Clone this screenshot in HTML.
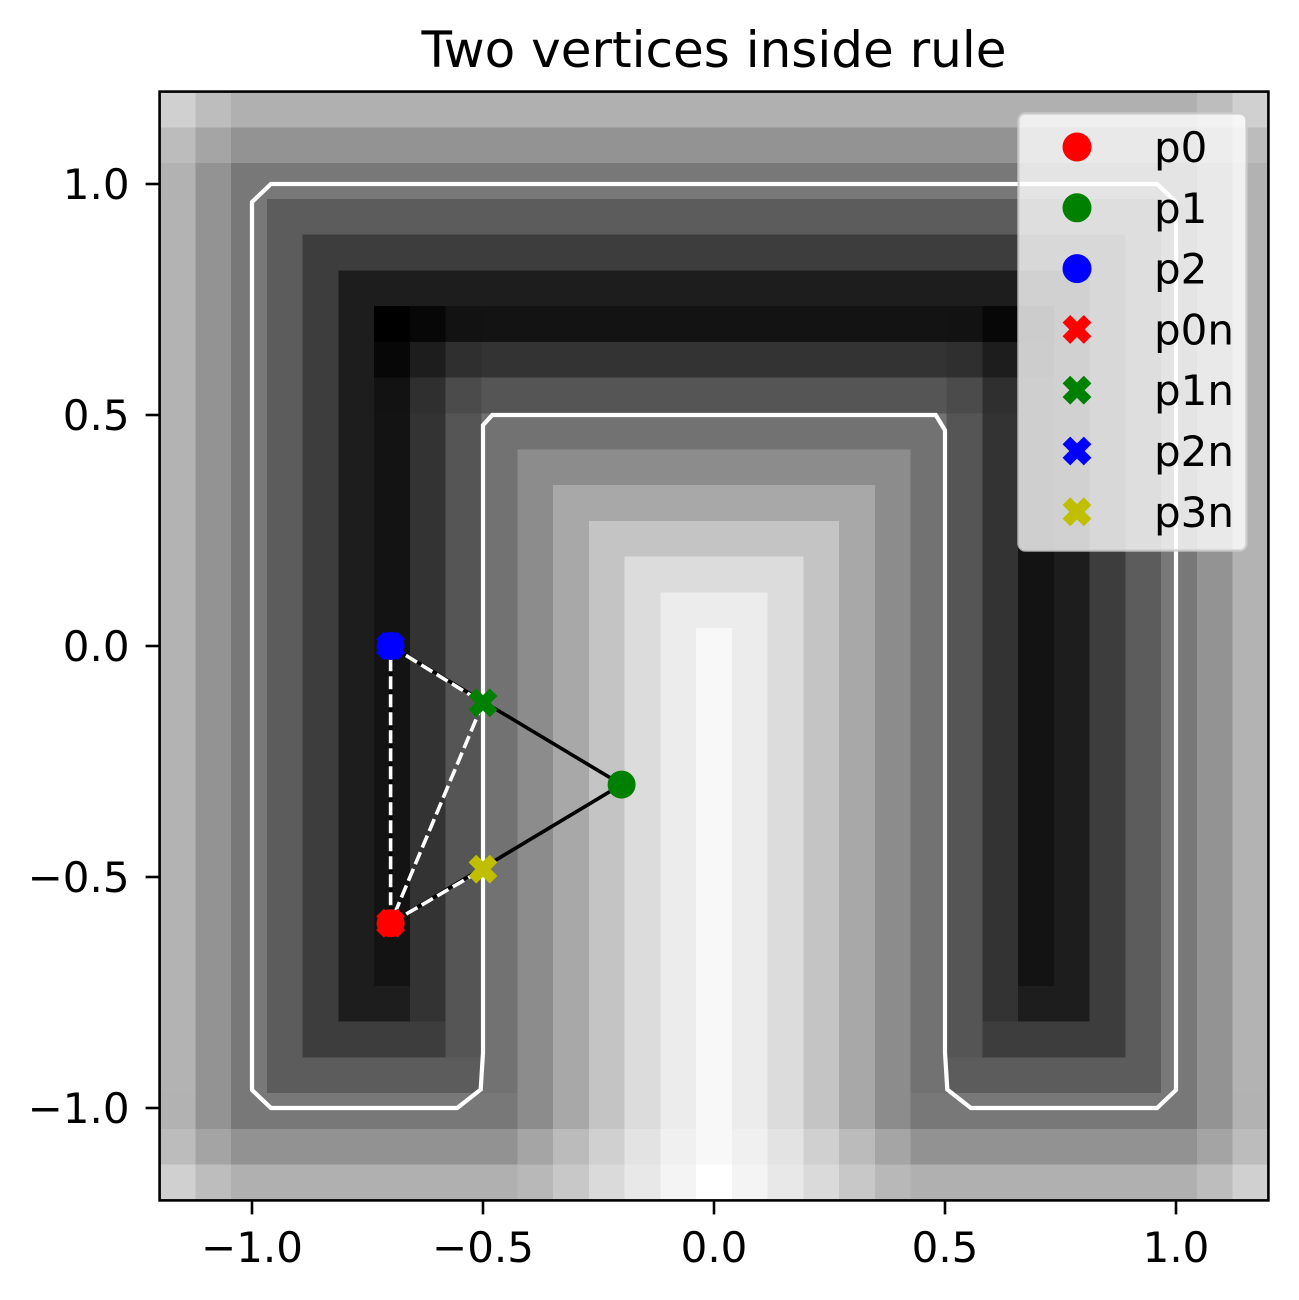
<!DOCTYPE html>
<html><head><meta charset="utf-8"><title>Two vertices inside rule</title>
<style>html,body{margin:0;padding:0;background:#fff}svg{display:block}</style></head>
<body>
<svg id="chart" width="1299" height="1300" viewBox="0 0 1299 1300" xmlns="http://www.w3.org/2000/svg" font-family="DejaVu Sans, Liberation Sans, sans-serif">
<rect x="0" y="0" width="1299" height="1300" fill="#fff"/>
<text x="714" y="67" font-size="50" text-anchor="middle" fill="#000">Two vertices inside rule</text>
<g id="heat"></g>
<g id="overlay"></g>
<g id="axes"></g>
<g id="legend"></g>
</svg>
<script>
// ---- data ----
const extentMin = -1.2, extentMax = 1.2;
const grid = [
[208,189,176,176,176,176,176,176,176,176,176,176,176,176,176,176,176,176,176,176,176,176,176,176,176,176,176,176,176,189,208],
[188,165,147,147,147,147,147,147,147,147,147,147,147,147,147,147,147,147,147,147,147,147,147,147,147,147,147,147,147,165,188],
[178,147,120,120,120,120,120,120,120,120,120,120,120,120,120,120,120,120,120,120,120,120,120,120,120,120,120,120,120,147,178],
[179,147,120,92,92,92,92,92,92,92,92,92,92,92,92,92,92,92,92,92,92,92,92,92,92,92,92,92,120,147,179],
[179,147,120,92,61,61,61,61,61,61,61,61,61,61,61,61,61,61,61,61,61,61,61,61,61,61,61,92,120,147,179],
[179,147,120,92,61,29,29,29,29,29,29,29,29,29,29,29,29,29,29,29,29,29,29,29,29,29,61,92,120,147,179],
[179,147,120,92,61,29,0,7,18,19,19,19,19,19,19,19,19,19,19,19,19,19,18,7,0,29,61,92,120,147,179],
[179,147,120,92,61,29,7,29,47,51,51,51,51,51,51,51,51,51,51,51,51,51,47,29,7,29,61,92,120,147,179],
[179,147,120,92,61,29,18,47,75,85,85,85,85,85,85,85,85,85,85,85,85,85,75,47,18,29,61,92,120,147,179],
[179,147,120,92,61,29,19,51,85,114,114,114,114,114,114,114,114,114,114,114,114,114,85,51,19,29,61,92,120,147,179],
[179,147,120,92,61,29,19,51,85,114,140,140,140,140,140,140,140,140,140,140,140,114,85,51,19,29,61,92,120,147,179],
[179,147,120,92,61,29,19,51,85,114,140,168,168,168,168,168,168,168,168,168,140,114,85,51,19,29,61,92,120,147,179],
[179,147,120,92,61,29,19,51,85,114,140,168,196,196,196,196,196,196,196,168,140,114,85,51,19,29,61,92,120,147,179],
[179,147,120,92,61,29,19,51,85,114,140,168,196,220,220,220,220,220,196,168,140,114,85,51,19,29,61,92,120,147,179],
[179,147,120,92,61,29,19,51,85,114,140,168,196,220,236,236,236,220,196,168,140,114,85,51,19,29,61,92,120,147,179],
[179,147,120,92,61,29,19,51,85,114,140,168,196,220,236,248,236,220,196,168,140,114,85,51,19,29,61,92,120,147,179],
[179,147,120,92,61,29,19,51,85,114,140,168,196,220,236,248,236,220,196,168,140,114,85,51,19,29,61,92,120,147,179],
[179,147,120,92,61,29,19,51,85,114,140,168,196,220,236,248,236,220,196,168,140,114,85,51,19,29,61,92,120,147,179],
[179,147,120,92,61,29,19,51,85,114,140,168,196,220,236,248,236,220,196,168,140,114,85,51,19,29,61,92,120,147,179],
[179,147,120,92,61,29,19,51,85,114,140,168,196,220,236,248,236,220,196,168,140,114,85,51,19,29,61,92,120,147,179],
[179,147,120,92,61,29,19,51,85,114,140,168,196,220,236,248,236,220,196,168,140,114,85,51,19,29,61,92,120,147,179],
[179,147,120,92,61,29,19,51,85,114,140,168,196,220,236,248,236,220,196,168,140,114,85,51,19,29,61,92,120,147,179],
[179,147,120,92,61,29,19,51,85,114,140,168,196,220,236,248,236,220,196,168,140,114,85,51,19,29,61,92,120,147,179],
[179,147,120,92,61,29,19,51,85,114,140,168,196,220,236,248,236,220,196,168,140,114,85,51,19,29,61,92,120,147,179],
[179,147,120,92,61,29,19,51,85,114,140,168,196,220,236,248,236,220,196,168,140,114,85,51,19,29,61,92,120,147,179],
[179,147,120,92,61,29,29,51,85,114,140,168,196,220,236,248,236,220,196,168,140,114,85,51,29,29,61,92,120,147,179],
[179,147,120,92,61,61,61,61,85,114,140,168,196,220,236,248,236,220,196,168,140,114,85,61,61,61,61,92,120,147,179],
[179,147,120,92,92,92,92,92,92,114,140,168,196,220,236,248,236,220,196,168,140,114,92,92,92,92,92,92,120,147,179],
[178,147,120,120,120,120,120,120,120,120,140,168,196,220,236,248,236,220,196,168,140,120,120,120,120,120,120,120,120,147,178],
[188,164,146,146,146,146,146,146,146,146,165,187,208,227,240,248,240,227,208,187,165,146,146,146,146,146,146,146,146,164,188],
[208,189,176,176,176,176,176,176,176,176,184,200,218,232,244,255,244,232,218,200,184,176,176,176,176,176,176,176,176,189,208]
];
const contourX = [-0.959,0.959,1.0,1.0,0.959,0.556,0.505,0.5,0.5,0.48,-0.48,-0.5,-0.5,-0.505,-0.556,-0.959,-1.0,-1.0];
const contourY = [1.0,1.0,0.961,-0.961,-1.0,-1.0,-0.96,-0.88,0.467,0.5,0.5,0.478,-0.88,-0.96,-1.0,-1.0,-0.961,0.961];
const pointNames = ["p0","p1","p2"];
const pointX = [-0.7,-0.2,-0.7];
const pointY = [-0.6,-0.3,0.0];
const newNames = ["p0n","p1n","p2n","p3n"];
const newX = [-0.7,-0.5,-0.7,-0.5];
const newY = [-0.6,-0.123,0.0,-0.483];
const pointColors = ["#ff0000","#008000","#0000ff"];
const newColors = ["#ff0000","#008000","#0000ff","#bfbf00"];
const xTicks = [-1.0,-0.5,0.0,0.5,1.0];
const xTickLabels = ["\u22121.0","\u22120.5","0.0","0.5","1.0"];
const yTicks = [1.0,0.5,0.0,-0.5,-1.0];
const yTickLabels = ["1.0","0.5","0.0","\u22120.5","\u22121.0"];

// ---- scales ----
const AX0 = 159.6, AX1 = 1268.4, AY0 = 91.6, AY1 = 1200.4;
function sx(v){ return AX0 + (v - extentMin) / (extentMax - extentMin) * (AX1 - AX0); }
function sy(v){ return AY1 - (v - extentMin) / (extentMax - extentMin) * (AY1 - AY0); }
const NS = "http://www.w3.org/2000/svg";
function mk(tag, attrs, parent){ const e = document.createElementNS(NS, tag); for (const k in attrs) e.setAttribute(k, attrs[k]); parent.appendChild(e); return e; }

// ---- heatmap ----
const heat = document.getElementById('heat');
const nR = grid.length, nC = grid[0].length;
const cw = (extentMax - extentMin) / nC, ch = (extentMax - extentMin) / nR;
for (let r = 0; r < nR; r++) {
  for (let c = 0; c < nC; c++) {
    const v = grid[r][c];
    const x0 = sx(extentMin + c * cw), x1 = sx(extentMin + (c + 1) * cw);
    const y0 = sy(extentMax - r * ch), y1 = sy(extentMax - (r + 1) * ch);
    const rc = mk('rect', {x: x0, y: y0, width: (x1 - x0) + 0.6, height: (y1 - y0) + 0.6, fill: `rgb(${v},${v},${v})`, 'shape-rendering': 'crispEdges'}, heat);
    
    
  }
}

// ---- overlay ----
const ov = document.getElementById('overlay');
const cpts = contourX.map((x, i) => sx(x) + ',' + sy(contourY[i])).join(' ');
const contour = mk('polygon', {points: cpts, fill: 'none', stroke: '#fff', 'stroke-width': 4.2, 'stroke-linejoin': 'miter'}, ov);



function seg(x1, y1, x2, y2, stroke, dash, name) {
  const l = mk('line', {x1: sx(x1), y1: sy(y1), x2: sx(x2), y2: sy(y2), stroke: stroke, 'stroke-width': 3.6}, ov);
  if (dash) l.setAttribute('stroke-dasharray', dash);
  
  
}
seg(pointX[0], pointY[0], pointX[1], pointY[1], '#000', null, 'edge-p0-p1');
seg(pointX[1], pointY[1], pointX[2], pointY[2], '#000', null, 'edge-p1-p2');
seg(pointX[2], pointY[2], pointX[0], pointY[0], '#000', null, 'edge-p2-p0');
seg(pointX[2], pointY[2], newX[1], newY[1], '#fff', '13,5', 'new-edge-p2-p1n');
seg(newX[1], newY[1], pointX[0], pointY[0], '#fff', '13,5', 'new-edge-p1n-p0');
seg(pointX[0], pointY[0], newX[3], newY[3], '#fff', '13,5', 'new-edge-p0-p3n');
seg(pointX[0], pointY[0], pointX[2], pointY[2], '#fff', '13,5', 'new-edge-p0-p2');

function xMarker(cx, cy, color, parent) {
  const s = 15, w = 5.4;
  const g = mk('g', {transform: `translate(${cx},${cy}) rotate(45)`}, parent);
  mk('rect', {x: -s, y: -w, width: 2 * s, height: 2 * w, fill: color}, g);
  mk('rect', {x: -w, y: -s, width: 2 * w, height: 2 * s, fill: color}, g);
  return g;
}
for (let i = 0; i < pointX.length; i++) {
  const m = mk('circle', {cx: sx(pointX[i]), cy: sy(pointY[i]), r: 14, fill: pointColors[i]}, ov);
  
  
}
for (let i = 0; i < newX.length; i++) {
  const m = xMarker(sx(newX[i]), sy(newY[i]), newColors[i], ov);
  
  
}

// ---- axes ----
const ax = document.getElementById('axes');
const frame = mk('rect', {x: AX0, y: AY0, width: AX1 - AX0, height: AY1 - AY0, fill: 'none', stroke: '#000', 'stroke-width': 2.6}, ax);


for (let i = 0; i < xTicks.length; i++) {
  const x = sx(xTicks[i]);
  const t = mk('line', {x1: x, y1: AY1, x2: x, y2: AY1 + 14, stroke: '#000', 'stroke-width': 2.6}, ax);
  
  
  const lb = mk('text', {x: x, y: 1262, 'font-size': 42, 'text-anchor': 'middle', fill: '#000'}, ax);
  lb.textContent = xTickLabels[i];
  
  
}
for (let i = 0; i < yTicks.length; i++) {
  const y = sy(yTicks[i]);
  const t = mk('line', {x1: AX0 - 14, y1: y, x2: AX0, y2: y, stroke: '#000', 'stroke-width': 2.6}, ax);
  
  
  const lb = mk('text', {x: AX0 - 30, y: y + 15, 'font-size': 42, 'text-anchor': 'end', fill: '#000'}, ax);
  lb.textContent = yTickLabels[i];
  
  
}

// ---- legend ----
const lg = document.getElementById('legend');
const box = mk('rect', {x: 1018.5, y: 113.5, width: 228, height: 437, rx: 7, fill: '#fff', 'fill-opacity': 0.8, stroke: '#cccccc', 'stroke-opacity': 0.8, 'stroke-width': 2.5}, lg);


const legNames = pointNames.concat(newNames);
for (let i = 0; i < legNames.length; i++) {
  const y = 147 + 60.8 * i;
  let m;
  if (i < pointNames.length) {
    m = mk('circle', {cx: 1077, cy: y, r: 14.5, fill: pointColors[i]}, lg);
  } else {
    m = xMarker(1077, y, newColors[i - pointNames.length], lg);
  }
  
  
  const tx = mk('text', {x: 1154, y: y + 15, 'font-size': 42, fill: '#000'}, lg);
  tx.textContent = legNames[i];
  
  
}
</script>
</body></html>
